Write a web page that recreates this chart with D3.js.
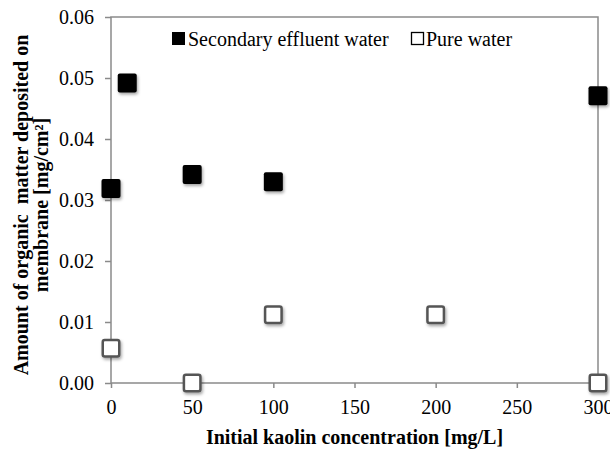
<!DOCTYPE html>
<html>
<head>
<meta charset="utf-8">
<script src="https://cdn.jsdelivr.net/npm/d3@7"></script>
<style>
  html, body { margin: 0; padding: 0; background: #fff; }
  svg { display: block; }
  text { font-family: "Liberation Serif", "Times New Roman", serif; fill: #000; }
</style>
</head>
<body>
<svg id="chart" width="610" height="450"></svg>
<script>
// Kaolin concentration (mg/L) and deposited organic matter (mg/cm²)
const secondaryX = [0, 10, 50, 100, 300];
const secondaryY = [0.0319, 0.0492, 0.0342, 0.0330, 0.0471];
const pureX = [0, 50, 100, 200, 300];
const pureY = [0.0057, 0.0, 0.0112, 0.0112, 0.0];
const xTicks = [0, 50, 100, 150, 200, 250, 300];
const yTicks = [0, 0.01, 0.02, 0.03, 0.04, 0.05, 0.06];
const seriesNames = ["Secondary effluent water", "Pure water"];
const xTitle = "Initial kaolin concentration [mg/L]";
const yTitleLines = ["Amount of organic  matter deposited on", "membrane [mg/cm²]"];

const svg = d3.select("#chart");
const plotLeft = 111, plotRight = 598, plotTop = 17, plotBottom = 383;
const axisColor = "#8a8a8a";

const x = d3.scaleLinear().domain([0, 300]).range([plotLeft, plotRight]);
const y = d3.scaleLinear().domain([0, 0.06]).range([plotBottom, plotTop]);

// soft drop shadow under the markers
const defs = svg.append("defs");
const f = defs.append("filter").attr("id", "shadow")
  .attr("x", "-50%").attr("y", "-50%").attr("width", "200%").attr("height", "200%");
f.append("feDropShadow").attr("dx", 1.2).attr("dy", 2).attr("stdDeviation", 1.4)
  .attr("flood-color", "#000").attr("flood-opacity", 0.35);

// plot frame
svg.append("rect")
  .attr("x", plotLeft).attr("y", plotTop)
  .attr("width", plotRight - plotLeft).attr("height", plotBottom - plotTop)
  .attr("fill", "none").attr("stroke", axisColor).attr("stroke-width", 1.5);

// y axis
const yAxis = svg.append("g").attr("transform", `translate(${plotLeft},0)`)
  .call(d3.axisLeft(y).tickValues(yTicks).tickFormat(d3.format(".2f"))
    .tickSize(6).tickSizeOuter(0).tickPadding(11));
yAxis.select(".domain").remove();
yAxis.selectAll(".tick line").attr("stroke", axisColor).attr("stroke-width", 1.5);
yAxis.selectAll(".tick text")
  .style("font-family", "'Liberation Serif', 'Times New Roman', serif")
  .style("font-size", "20px").attr("fill", "#000");

// x axis
const xAxis = svg.append("g").attr("transform", `translate(0,${plotBottom})`)
  .call(d3.axisBottom(x).tickValues(xTicks).tickFormat(d3.format("d"))
    .tickSize(5).tickSizeOuter(0).tickPadding(12));
xAxis.select(".domain").remove();
xAxis.selectAll(".tick line").attr("stroke", axisColor).attr("stroke-width", 1.5);
xAxis.selectAll(".tick text")
  .style("font-family", "'Liberation Serif', 'Times New Roman', serif")
  .style("font-size", "20px").attr("fill", "#000");

// axis titles
svg.append("text")
  .attr("x", (plotLeft + plotRight) / 2).attr("y", 444)
  .attr("text-anchor", "middle")
  .style("font-size", "20px").style("font-weight", "bold")
  .text(xTitle);

const yTitle = svg.append("text")
  .attr("transform", "translate(0,205) rotate(-90)")
  .attr("text-anchor", "middle")
  .style("font-size", "20px").style("font-weight", "bold")
  .style("white-space", "pre");
yTitleLines.forEach((line, i) => {
  yTitle.append("tspan").attr("x", 0).attr("y", i === 0 ? 28 : 48).text(line);
});

// markers
const size = 19;
const secondary = secondaryX.map((v, i) => ({ x: v, y: secondaryY[i] }));
const pure = pureX.map((v, i) => ({ x: v, y: pureY[i] }));

svg.append("g").selectAll("rect").data(pure).join("rect")
  .attr("x", d => x(d.x) - (size - 2.5) / 2)
  .attr("y", d => y(d.y) - (size - 2.5) / 2)
  .attr("width", size - 2.5).attr("height", size - 2.5)
  .attr("rx", 2)
  .attr("fill", "#fff").attr("stroke", "#555").attr("stroke-width", 2.5)
  .attr("filter", "url(#shadow)");

svg.append("g").selectAll("rect").data(secondary).join("rect")
  .attr("x", d => x(d.x) - size / 2)
  .attr("y", d => y(d.y) - size / 2)
  .attr("width", size).attr("height", size)
  .attr("rx", 2)
  .attr("fill", "#000")
  .attr("filter", "url(#shadow)");

// legend
const legend = svg.append("g");
legend.append("rect").attr("x", 172).attr("y", 32).attr("width", 13).attr("height", 13)
  .attr("fill", "#000");
legend.append("text").attr("x", 188).attr("y", 46)
  .style("font-size", "20px").text(seriesNames[0]);
legend.append("rect").attr("x", 411.5).attr("y", 32.5).attr("width", 12).attr("height", 12)
  .attr("fill", "#fff").attr("stroke", "#000").attr("stroke-width", 1.3);
legend.append("text").attr("x", 426).attr("y", 46)
  .style("font-size", "20px").text(seriesNames[1]);
</script>
</body>
</html>
